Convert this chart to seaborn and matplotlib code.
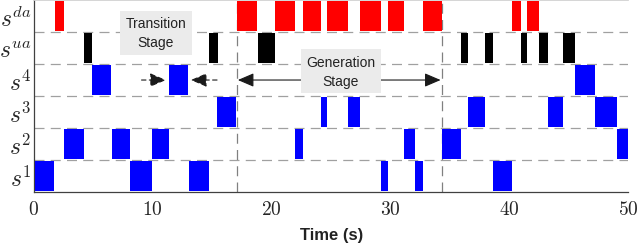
import matplotlib
matplotlib.use("Agg")
import matplotlib.pyplot as plt
import seaborn as sns

# har row ke active intervals (start, end) seconds mein
s1_slots = [(0.1, 1.7), (8.1, 9.9), (13.0, 14.75), (29.15, 29.8), (32.05, 32.7), (38.6, 40.2)]
s2_slots = [(2.55, 4.2), (6.55, 8.05), (9.95, 11.35), (21.95, 22.65), (31.15, 32.05),
            (34.3, 35.9), (49.05, 50.0)]
s3_slots = [(15.4, 17.0), (24.15, 24.65), (26.45, 27.45), (36.5, 37.9), (43.2, 44.5), (47.2, 49.0)]
s4_slots = [(4.9, 6.5), (11.35, 12.95), (45.5, 47.2)]
sua_slots = [(4.2, 4.9), (14.75, 15.45), (18.85, 20.3), (35.9, 36.5), (37.9, 38.6),
             (41.0, 41.5), (42.5, 43.2), (44.5, 45.5)]
sda_slots = [(1.75, 2.5), (17.05, 18.8), (20.3, 21.95), (22.65, 24.15), (24.65, 26.45),
             (27.45, 29.15), (29.8, 31.15), (32.7, 34.3), (40.2, 41.0), (41.5, 42.5)]

row_labels = [r"$s^1$", r"$s^2$", r"$s^3$", r"$s^4$", r"$s^{ua}$", r"$s^{da}$"]
row_colors = ["#0000ff", "#0000ff", "#0000ff", "#0000ff", "#000000", "#ff0000"]
stage_bounds = [17.05, 34.3]  # transition -> generation -> transition
x_ticks = [0, 10, 20, 30, 40, 50]

sns.set_theme(style="white")
plt.rcParams["mathtext.fontset"] = "cm"
plt.rcParams["font.family"] = ["Liberation Sans", "DejaVu Sans"]

fig = plt.figure(figsize=(6.4, 2.53), dpi=100)
ax = fig.add_axes([0.053, 0.237, 0.929, 0.759])

all_rows = [s1_slots, s2_slots, s3_slots, s4_slots, sua_slots, sda_slots]
for i, slots in enumerate(all_rows):
    ax.broken_barh([(a, b - a) for a, b in slots], (i + 0.03, 0.94),
                   facecolors=row_colors[i], edgecolor="none", zorder=3)

# row ke beech dashed lines
for y in range(1, 6):
    ax.axhline(y, color="#a0a0a0", lw=0.9, dashes=(8, 5), zorder=1)
for xb in stage_bounds:
    ax.axvline(xb, color="#808080", lw=0.9, dashes=(8, 5), zorder=1)

# Transition stage wala label aur arrows
ax.text(10.25, 4.98, "Transition\nStage", ha="center", va="center", fontsize=10,
        color="#222222", linespacing=1.45, zorder=5,
        bbox=dict(boxstyle="square,pad=0.4", fc="#ebebeb", ec="none"))
arrow_dash = dict(arrowstyle="-|>,head_length=0.7,head_width=0.3", color="k", lw=0.8,
                  linestyle=(0, (4, 3)), shrinkA=0, shrinkB=0, mutation_scale=14)
ax.annotate("", xy=(11.1, 3.5), xytext=(9.05, 3.5), arrowprops=arrow_dash, zorder=4)
ax.annotate("", xy=(13.2, 3.5), xytext=(15.4, 3.5), arrowprops=arrow_dash, zorder=4)

# Generation stage wala double arrow
ax.annotate("", xy=(stage_bounds[0] + 0.1, 3.5), xytext=(stage_bounds[1] - 0.1, 3.5),
            arrowprops=dict(arrowstyle="<|-|>,head_length=0.7,head_width=0.3", color="k",
                            lw=0.8, shrinkA=0, shrinkB=0, mutation_scale=14), zorder=4)
ax.text(25.8, 3.78, "Generation\nStage", ha="center", va="center", fontsize=10,
        color="#222222", linespacing=1.45, zorder=5,
        bbox=dict(boxstyle="square,pad=0.4", fc="#ebebeb", ec="none"))

ax.set_xlim(0, 50)
ax.set_ylim(0, 6)
ax.set_xticks(x_ticks)
ax.set_xticklabels([f"${v}$" for v in x_ticks], fontsize=14)
ax.set_yticks([i + 0.5 for i in range(6)])
ax.set_yticklabels(row_labels, fontsize=17)
ax.tick_params(axis="both", direction="in", length=4, width=0.8, color="#404040")
ax.tick_params(axis="x", pad=6)
ax.tick_params(axis="y", pad=2)
ax.set_xlabel("Time (s)", fontsize=12, fontweight="bold", color="#222222", labelpad=6)

ax.spines["right"].set_visible(False)
ax.spines["top"].set_color("#d0d0d0")
for side in ["left", "bottom"]:
    ax.spines[side].set_color("#404040")
    ax.spines[side].set_linewidth(0.9)

fig.savefig("out.png", dpi=100)
